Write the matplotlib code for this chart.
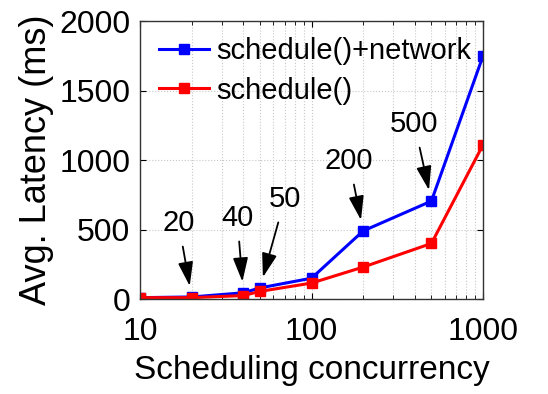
import matplotlib
matplotlib.use("Agg")
import matplotlib.pyplot as plt
import numpy as np

plt.rcParams['font.family'] = ['Liberation Sans', 'DejaVu Sans']

# Data
concurrency = [10, 20, 40, 50, 100, 200, 500, 1000]
latency_net = [10, 15, 45, 80, 150, 490, 705, 1750]  # schedule()+network, ms
latency_sched = [10, 10, 25, 55, 115, 230, 400, 1110]  # schedule(), ms

# labels pointed at by arrows, with text offset in pixels
ann_labels = ['20', '40', '50', '200', '500']
ann_x = [20, 40, 50, 200, 500]
ann_offsets = [(-13, 74), (-6, 75), (25, 89), (-14, 70), (-17, 77)]

fig = plt.figure(figsize=(5.48, 3.94), dpi=100)
ax = fig.add_axes([0.2555, 0.241, 0.626, 0.7056])

ax.plot(concurrency, latency_net, '-s', color='#0000ff', lw=2.2, ms=7.5,
        label='schedule()+network')
ax.plot(concurrency, latency_sched, '-s', color='#ff0000', lw=2.2, ms=7.5,
        label='schedule()')

ax.set_xscale('log')
ax.set_xlim(10, 1000)
ax.set_ylim(0, 2000)
ax.set_yticks([0, 500, 1000, 1500, 2000])
ax.set_xticks([10, 100, 1000])
ax.set_xticklabels(['10', '100', '1000'])

ax.grid(True, which='both', axis='x', linestyle=':', color='#c8c8c8', lw=0.8)
ax.grid(True, which='major', axis='y', linestyle=':', color='#c8c8c8', lw=0.8)

ax.tick_params(which='both', direction='in', top=True, right=True)
ax.tick_params(axis='x', pad=13, labelsize=23)
ax.tick_params(axis='y', pad=7, labelsize=23)
ax.tick_params(which='major', length=4)
ax.tick_params(which='minor', length=3)
for s in ax.spines.values():
    s.set_linewidth(1.0)
    s.set_color('#333333')

ax.set_xlabel('Scheduling concurrency', fontsize=24, labelpad=6)
ax.set_ylabel('Avg. Latency (ms)', fontsize=26, labelpad=4)

for lab, x, off in zip(ann_labels, ann_x, ann_offsets):
    y = latency_net[concurrency.index(x)]
    ax.annotate(lab, xy=(x, y), xytext=off, textcoords='offset pixels',
                ha='center', va='center', fontsize=21,
                arrowprops=dict(arrowstyle='-|>,head_length=0.7,head_width=0.22',
                                color='black', lw=1.3, shrinkA=5, shrinkB=8))

ax.legend(loc='upper left', bbox_to_anchor=(0.0204, 0.9856), frameon=False,
          fontsize=21, handlelength=1.72, handletextpad=0.24,
          borderaxespad=0.1, labelspacing=0.41, borderpad=0.3)

fig.savefig('out.png', dpi=100)
